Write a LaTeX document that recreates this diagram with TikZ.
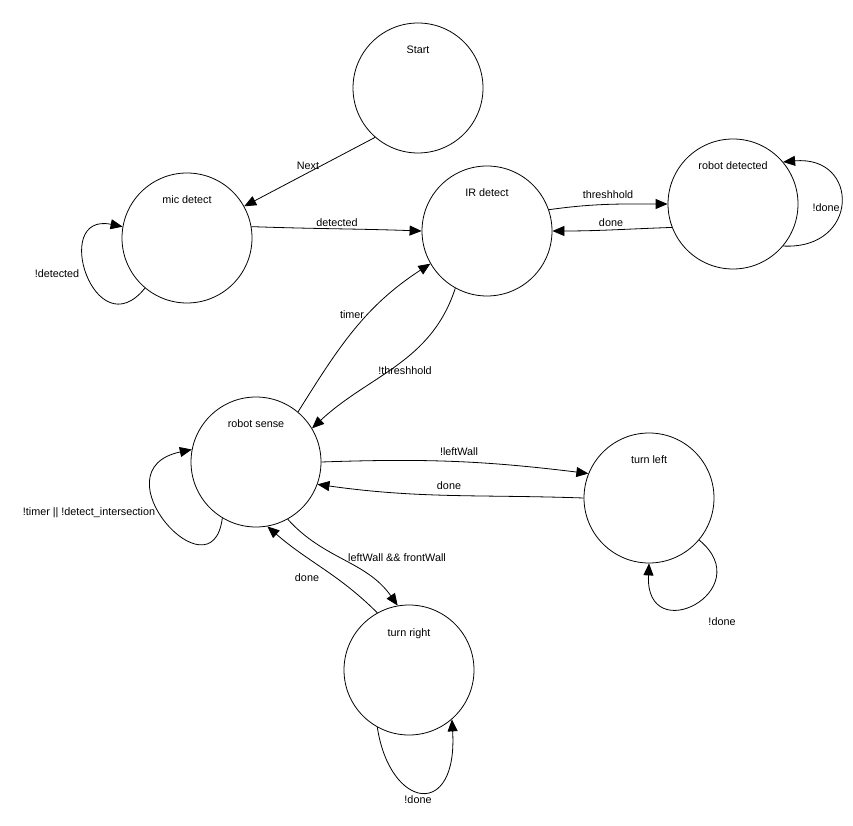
\documentclass[tikz,border=0pt]{standalone}
\usepackage{fontspec}
\setmainfont{Liberation Sans}
\usetikzlibrary{arrows.meta}
\begin{document}
\begin{tikzpicture}[x=1pt,y=1pt,
  state/.style={draw=black, line width=0.8pt, circle, minimum size=130pt, inner sep=0pt, fill=white},
  lab/.style={font=\fontsize{10.8}{13}\selectfont, inner sep=0pt, text height=8pt, text depth=2pt, anchor=center},
  edge/.style={draw=black, line width=0.8pt, -{Triangle[length=12pt,width=10pt]}}]
\useasboundingbox (0,0) rectangle (853,825);
\fill[white] (0,0) rectangle (853,825);
% states
\node[state] (start) at (418,737) {};
\node[state] (mic) at (187,587) {};
\node[state] (ir) at (487,594) {};
\node[state] (rd) at (733,621) {};
\node[state] (rs) at (256,363) {};
\node[state] (tl) at (649,327) {};
\node[state] (tr) at (409,155) {};
% state names
\node[lab] (tstart) at ([yshift=37pt]start.center) {Start};
\node[lab] (tmic) at ([yshift=37pt]mic.center) {mic detect};
\node[lab] (tir) at ([yshift=37pt]ir.center) {IR detect};
\node[lab] (trd) at ([yshift=37pt]rd.center) {robot detected};
\node[lab] (trs) at ([yshift=37pt]rs.center) {robot sense};
\node[lab] (ttl) at ([yshift=37pt]tl.center) {turn left};
\node[lab] (ttr) at ([yshift=37pt]tr.center) {turn right};
% transitions
\draw[edge] (start.229) -- (mic.29);
\draw[edge] (mic.10) to[out=-2,in=178] (ir.180);
\draw[edge] (ir.19) to[out=8,in=180] (rd.180);
\draw[edge] (rd.201) to[out=182,in=0] (ir.0);
\draw[edge] (rd.-40) .. controls (860,575) and (860,670) .. (rd.40);
\draw[edge] (mic.230) .. controls (95,475) and (50,613) .. (mic.170);
\draw[edge] (rs.50) to[out=58,in=213] (ir.210);
\draw[edge] (ir.241) to[out=-108,in=43] (rs.31);
\draw[edge] (rs.0) to[out=2,in=173] (tl.158);
\draw[edge] (tl.180) to[out=178,in=-8] (rs.-20);
\draw[edge] (rs.-61) to[out=-48,in=125] (tr.100);
\draw[edge] (tr.119) to[out=135,in=-41] (rs.-80);
\draw[edge] (rs.239) .. controls (212,225) and (95,355) .. (rs.169);
\draw[edge] (tl.-40) .. controls (760,235) and (645,175) .. (tl.270);
\draw[edge] (tr.241) .. controls (390,15) and (458,5) .. (tr.-49);
% transition labels
\node[lab] (lnext) at (308,658) {Next};
\node[lab] (ldet) at (337,601) {detected};
\node[lab] (lthr) at (608,629) {threshhold};
\node[lab] (ldone1) at (611,601) {done};
\node[lab] (lndone1) at (826,616) {!done};
\node[lab] (lndet) at (57,550) {!detected};
\node[lab] (ltimer) at (352,509) {timer};
\node[lab] (lnthr) at (405,453) {!threshhold};
\node[lab] (lnlw) at (459,372) {!leftWall};
\node[lab] (ldone2) at (449,338) {done};
\node[lab] (llwfw) at (397,267) {leftWall \&\& frontWall};
\node[lab] (ldone3) at (307,247) {done};
\node[lab] (lntimer) at (89,312) {!timer || !detect\_intersection};
\node[lab] (lndone2) at (722,203) {!done};
\node[lab] (lndone3) at (418,25) {!done};
\end{tikzpicture}
\end{document}
